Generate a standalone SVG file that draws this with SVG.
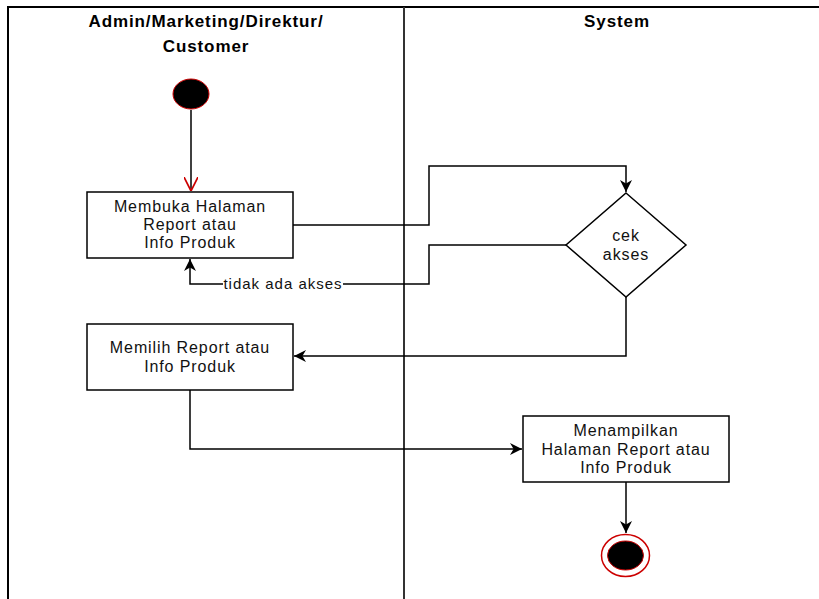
<svg xmlns="http://www.w3.org/2000/svg" width="819" height="599" viewBox="0 0 819 599">
  <style>
    .lane { stroke: #000; stroke-width: 2; fill: none; }
    .divider { stroke: #333; stroke-width: 2; fill: none; }
    .head { font-family: "Liberation Sans", Arial, sans-serif; font-size: 17px; font-weight: bold; letter-spacing: 0.9px; fill: #000; text-anchor: middle; }
    .box { fill: #fff; stroke: #000; stroke-width: 1.5; }
    .txt { font-family: "Liberation Sans", Arial, sans-serif; font-size: 16px; letter-spacing: 0.9px; fill: #111; text-anchor: middle; }
    .lbl { font-family: "Liberation Sans", Arial, sans-serif; font-size: 15px; letter-spacing: 1px; fill: #111; text-anchor: middle; }
    .edge { stroke: #000; stroke-width: 1.5; fill: none; }
  </style>
  <defs>
    <marker id="arrow" markerWidth="12" markerHeight="12" refX="10" refY="5" orient="auto" markerUnits="userSpaceOnUse" viewBox="0 0 10 10">
      <path d="M0,0 L10,5 L0,10 L3,5 z" fill="#000"/>
    </marker>
    <marker id="openRed" markerWidth="14" markerHeight="14" refX="10" refY="5" orient="auto" markerUnits="userSpaceOnUse" viewBox="0 0 10 10">
      <path d="M0,0 L10,5 L0,10" fill="none" stroke="#c00" stroke-width="1.2"/>
    </marker>
  </defs>

  <rect width="819" height="599" fill="#fff"/>

  <!-- swimlanes -->
  <g id="lanes">
    <path class="lane" d="M8,599 V7 H819"/>
    <path class="divider" d="M404,7 V599"/>
    <text class="head" x="206" y="27">Admin/Marketing/Direktur/</text>
    <text class="head" x="206" y="52">Customer</text>
    <text class="head" x="617" y="27">System</text>
  </g>

  <!-- connectors -->
  <g id="connectors">
    <path class="edge" d="M191,110 V191" marker-end="url(#openRed)"/>
    <path class="edge" d="M293,225 H429 V166 H626 V192" marker-end="url(#arrow)"/>
    <path class="edge" d="M566,245 H429 V284 H190 V259" marker-end="url(#arrow)"/>
    <path class="edge" d="M626,297 V356 H294" marker-end="url(#arrow)"/>
    <path class="edge" d="M190,390 V449 H522" marker-end="url(#arrow)"/>
    <path class="edge" d="M626,482 V533" marker-end="url(#arrow)"/>
    <rect x="223" y="275" width="120" height="18" fill="#fff"/>
    <text class="lbl" x="283" y="289">tidak ada akses</text>
  </g>

  <g id="start">
    <ellipse cx="191" cy="94" rx="18" ry="15" fill="#000" stroke="#c00" stroke-width="1"/>
  </g>

  <g id="membuka">
    <rect class="box" x="87" y="192" width="206" height="66"/>
    <text class="txt" x="190" y="212">Membuka Halaman</text>
    <text class="txt" x="190" y="230">Report atau</text>
    <text class="txt" x="190" y="248">Info Produk</text>
  </g>

  <g id="cek-akses">
    <polygon class="box" points="626,193 686,245 626,297 566,245"/>
    <text class="txt" x="626" y="241">cek</text>
    <text class="txt" x="626" y="260">akses</text>
  </g>

  <g id="memilih">
    <rect class="box" x="87" y="324" width="206" height="66"/>
    <text class="txt" x="190" y="353">Memilih Report atau</text>
    <text class="txt" x="190" y="372">Info Produk</text>
  </g>

  <g id="menampilkan">
    <rect class="box" x="523" y="416" width="206" height="66"/>
    <text class="txt" x="626" y="436">Menampilkan</text>
    <text class="txt" x="626" y="455">Halaman Report atau</text>
    <text class="txt" x="626" y="473">Info Produk</text>
  </g>

  <g id="end">
    <ellipse cx="625.5" cy="555.5" rx="24" ry="21" fill="#fff" stroke="#c00" stroke-width="1.5"/>
    <ellipse cx="625.5" cy="555.5" rx="18" ry="14.5" fill="#000" stroke="#c00" stroke-width="1"/>
  </g>
</svg>
